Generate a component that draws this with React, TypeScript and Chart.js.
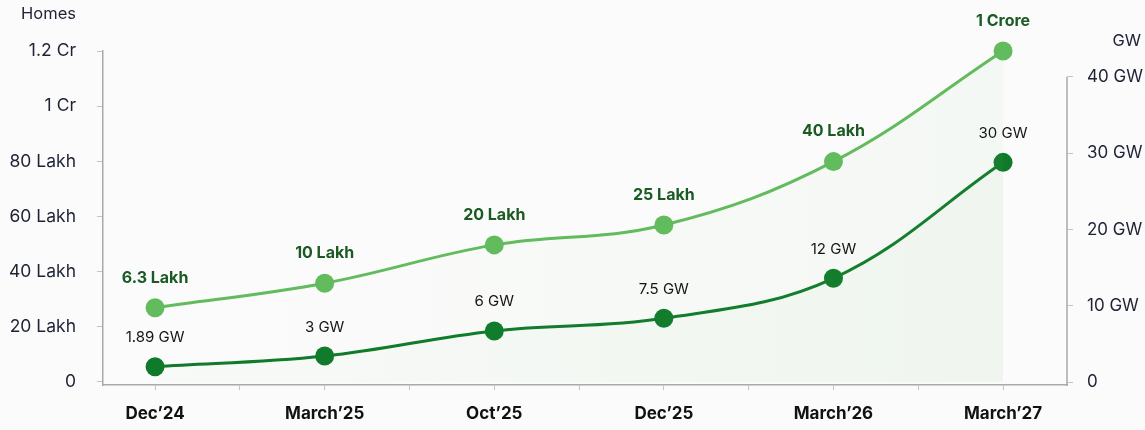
import React, { useEffect, useRef } from "react";
import { Chart, registerables } from "chart.js";

Chart.register(...registerables);

const FONT = "Inter, 'Open Sans', sans-serif";

const categories = ["Dec’24", "March’25", "Oct’25", "Dec’25", "March’26", "March’27"];
// plotted positions (Lakh homes) as drawn in the picture
const homesValues = [26.9, 35.8, 49.7, 56.9, 79.9, 120];
// plotted positions (GW) as drawn in the picture
const gwValues = [2.0, 3.4, 6.7, 8.35, 13.6, 28.8];
const homesLabels = ["6.3 Lakh", "10 Lakh", "20 Lakh", "25 Lakh", "40 Lakh", "1 Crore"];
const gwLabels = ["1.89 GW", "3 GW", "6 GW", "7.5 GW", "12 GW", "30 GW"];
const homesTicks = [0, 20, 40, 60, 80, 100, 120];
const homesTickLabels = ["0", "20 Lakh", "40 Lakh", "60 Lakh", "80 Lakh", "1 Cr", "1.2 Cr"];
const gwTicks = [0, 10, 20, 30, 40];
const gwTickLabels = ["0", "10 GW", "20 GW", "30 GW", "40 GW"];
const xTicks = [0, 0.5, 1, 1.5, 2, 2.5, 3, 3.5, 4, 4.5, 5];

const LIGHT = "#62bb5c";
const DARK = "#0e7a2a";
const AXIS = "#a9a9a9";
const TICKMARK = "#c4c4c4";
const TEXT = "#1e2234";

const bgPlugin = {
  id: "bg",
  beforeDraw(chart: any) {
    const ctx = chart.ctx;
    ctx.save();
    ctx.fillStyle = "#fbfbfb";
    ctx.fillRect(0, 0, chart.width, chart.height);
    ctx.restore();
  },
};

const decoPlugin = {
  id: "deco",
  afterDraw(chart: any) {
    const ctx = chart.ctx;
    const ca = chart.chartArea;
    const yR = chart.scales.yR;
    ctx.save();
    // right axis line from 40 GW down to the x-axis
    ctx.strokeStyle = AXIS;
    ctx.lineWidth = 1.5;
    ctx.beginPath();
    ctx.moveTo(ca.right, yR.getPixelForValue(gwTicks[gwTicks.length - 1]));
    ctx.lineTo(ca.right, ca.bottom + 1);
    ctx.stroke();
    // axis titles
    ctx.fillStyle = TEXT;
    ctx.font = `16.5px ${FONT}`;
    ctx.textBaseline = "middle";
    ctx.textAlign = "right";
    ctx.fillText("Homes", 76, 14);
    ctx.fillText("GW", 1141, 41);
    ctx.restore();
  },
};

const pointLabelPlugin = {
  id: "pointLabels",
  afterDatasetsDraw(chart: any) {
    const ctx = chart.ctx;
    ctx.save();
    ctx.textAlign = "center";
    ctx.textBaseline = "middle";
    const m0 = chart.getDatasetMeta(0);
    ctx.font = `bold 16px ${FONT}`;
    ctx.fillStyle = "#1b5a22";
    m0.data.forEach((pt: any, i: number) => {
      ctx.fillText(homesLabels[i], pt.x, pt.y - 30);
    });
    const m1 = chart.getDatasetMeta(1);
    ctx.font = `15px ${FONT}`;
    ctx.fillStyle = "#151515";
    m1.data.forEach((pt: any, i: number) => {
      ctx.fillText(gwLabels[i], pt.x, pt.y - 29);
    });
    ctx.restore();
  },
};

function fillGradient(alphaL: number, alphaR: number) {
  return (context: any) => {
    const chart = context.chart;
    const ca = chart.chartArea;
    if (!ca) return "rgba(0,0,0,0)";
    const g = chart.ctx.createLinearGradient(ca.left + 50, 0, ca.right - 60, 0);
    g.addColorStop(0, `rgba(130,195,120,${alphaL})`);
    g.addColorStop(1, `rgba(130,195,120,${alphaR})`);
    return g;
  };
}

export default function App() {
  const ref = useRef<HTMLCanvasElement | null>(null);

  useEffect(() => {
    document.body.style.margin = "0";
    const canvas = ref.current;
    if (!canvas) return;
    const chart = new Chart(canvas, {
      type: "line",
      data: {
        datasets: [
          {
            label: "Homes",
            data: homesValues.map((v, i) => ({ x: i, y: v })),
            yAxisID: "yL",
            borderColor: LIGHT,
            backgroundColor: LIGHT,
            borderWidth: 3,
            pointRadius: 9.5,
            pointBorderWidth: 0,
            pointBackgroundColor: LIGHT,
            tension: 0.38,
            clip: false as any,
            fill: { target: "origin", above: fillGradient(0.0, 0.06) } as any,
          },
          {
            label: "GW",
            data: gwValues.map((v, i) => ({ x: i, y: v })),
            yAxisID: "yR",
            borderColor: DARK,
            backgroundColor: DARK,
            borderWidth: 3,
            pointRadius: 9.5,
            pointBorderWidth: 0,
            pointBackgroundColor: DARK,
            tension: 0.38,
            clip: false as any,
            fill: { target: "origin", above: fillGradient(0.025, 0.045) } as any,
          },
        ],
      },
      options: {
        responsive: false,
        animation: false,
        devicePixelRatio: 1,
        layout: { padding: { top: 51, left: 0, right: 0, bottom: 0 } },
        plugins: { legend: { display: false }, tooltip: { enabled: false } },
        scales: {
          x: {
            type: "linear",
            min: -0.307,
            max: 5.377,
            afterBuildTicks: (s: any) => {
              s.ticks = xTicks.map((v) => ({ value: v }));
            },
            afterFit: (s: any) => {
              s.height = 45;
            },
            grid: { display: true, drawOnChartArea: false, drawTicks: true, tickLength: 5, color: TICKMARK },
            border: { display: true, color: AXIS, width: 1.5 },
            ticks: {
              autoSkip: false,
              maxRotation: 0,
              padding: 14,
              color: "#111",
              font: { family: FONT, size: 17, weight: "bold" },
              callback: (v: any) => (Number.isInteger(v) ? categories[v] : ""),
            },
          },
          yL: {
            type: "linear",
            position: "left",
            min: -1.1,
            max: 120,
            afterBuildTicks: (s: any) => {
              s.ticks = homesTicks.map((v) => ({ value: v }));
            },
            afterFit: (s: any) => {
              s.width = 103;
            },
            grid: { display: true, drawOnChartArea: false, drawTicks: true, tickLength: 6, color: TICKMARK },
            border: { display: true, color: AXIS, width: 1.5 },
            ticks: {
              padding: 21,
              color: TEXT,
              font: { family: FONT, size: 17.5 },
              callback: (v: any) => homesTickLabels[homesTicks.indexOf(v)] ?? "",
            },
          },
          yR: {
            type: "linear",
            position: "right",
            min: -0.39,
            max: 43.4,
            afterBuildTicks: (s: any) => {
              s.ticks = gwTicks.map((v) => ({ value: v }));
            },
            afterFit: (s: any) => {
              s.width = 78;
            },
            grid: { display: true, drawOnChartArea: false, drawTicks: true, tickLength: 6, color: TICKMARK },
            border: { display: false },
            ticks: {
              padding: 14,
              color: TEXT,
              font: { family: FONT, size: 17 },
              callback: (v: any) => gwTickLabels[gwTicks.indexOf(v)] ?? "",
            },
          },
        },
      },
      plugins: [bgPlugin, pointLabelPlugin, decoPlugin],
    });
    return () => chart.destroy();
  }, []);

  return (
    <div style={{ width: 1145, height: 430 }}>
      <canvas ref={ref} width={1145} height={430} style={{ display: "block" }} />
    </div>
  );
}
